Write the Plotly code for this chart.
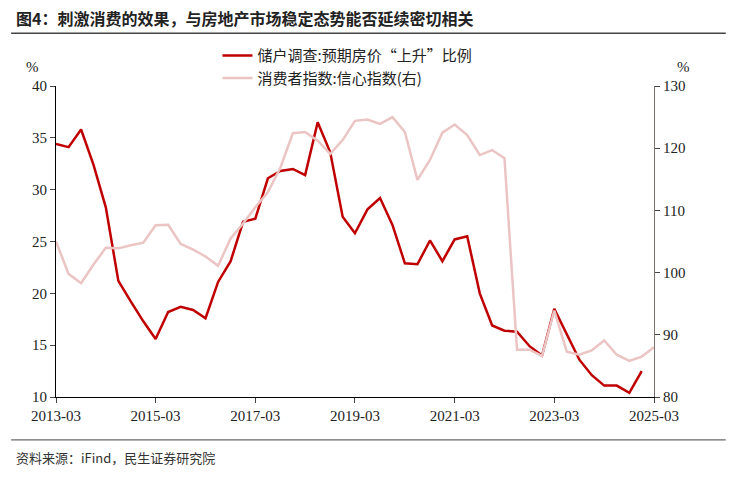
import plotly.graph_objects as go
import pandas as pd

dates = pd.date_range("2013-03-01", periods=49, freq="3MS")
housing = [34.4,34.1,35.8,32.4,28.3,21.2,19.2,17.3,15.6,18.2,18.7,18.4,17.6,21.1,23.1,26.9,
           27.2,31.1,31.8,32.0,31.4,36.5,33.6,27.4,25.8,28.1,29.2,26.6,22.9,22.8,25.1,23.1,
           25.2,25.5,20.0,16.9,16.4,16.3,14.9,14.0,18.5,16.0,13.6,12.1,11.1,11.1,10.4,12.5]
confidence = [105.0,99.8,98.3,101.3,104.0,103.9,104.4,104.8,107.6,107.7,104.6,103.7,102.6,101.1,105.5,107.9,
              110.5,112.9,116.9,122.4,122.6,121.2,119.1,121.3,124.4,124.6,123.9,125.0,122.6,114.9,118.1,122.5,
              123.8,122.1,118.9,119.7,118.4,87.6,87.6,86.6,93.9,87.3,86.8,87.5,89.1,86.8,85.8,86.5,88.0]
tickvals = pd.date_range("2013-03-01", "2025-03-01", freq="24MS")
ticktext = [d.strftime("%Y-%m") for d in tickvals]

font = "Liberation Serif, Noto Sans CJK SC"
fig = go.Figure()
fig.add_trace(go.Scatter(x=dates[:len(housing)], y=housing, name="储户调查:预期房价“上升”比例",
                         line=dict(color="#C00000", width=2.5), mode="lines"))
fig.add_trace(go.Scatter(x=dates, y=confidence, name="消费者指数:信心指数(右)", yaxis="y2",
                         line=dict(color="#EBC4C4", width=2.5), mode="lines"))
fig.update_layout(
    width=738, height=478, plot_bgcolor="white", paper_bgcolor="white",
    margin=dict(l=48, r=92, t=78, b=89, autoexpand=False),
    font=dict(family=font, size=15, color="#222"),
    xaxis=dict(range=[dates[0], dates[48]], tickvals=tickvals, ticktext=ticktext,
               showgrid=False, showline=True, linecolor="black", ticks="outside", ticklen=5),
    yaxis=dict(range=[10, 40], dtick=5, showgrid=False, showline=True, linecolor="black",
               ticks="outside", ticklen=5, zeroline=False),
    yaxis2=dict(range=[80, 130], dtick=10, overlaying="y", side="right", showgrid=False,
                showline=True, linecolor="#7f7070", ticks="outside", ticklen=5, zeroline=False),
    legend=dict(x=0.27, y=1.15, xanchor="left", yanchor="top", bgcolor="rgba(0,0,0,0)",
                font=dict(size=15, family="Noto Sans CJK SC"), tracegroupgap=0),
    showlegend=True,
)
fig.add_annotation(text="<b>图4：刺激消费的效果，与房地产市场稳定态势能否延续密切相关</b>", xref="paper", yref="paper",
                   x=-0.07, y=1.219, xanchor="left", yanchor="middle", showarrow=False,
                   font=dict(family="Noto Sans CJK SC", size=16, color="#222"))
fig.add_shape(type="line", xref="paper", yref="paper", x0=-0.075, x1=1.12, y0=1.17, y1=1.17,
              line=dict(color="#444", width=1.5))
fig.add_annotation(text="%", xref="paper", yref="paper", x=-0.04, y=1.03, xanchor="center",
                   yanchor="bottom", showarrow=False, font=dict(size=15))
fig.add_annotation(text="%", xref="paper", yref="paper", x=1.05, y=1.03, xanchor="center",
                   yanchor="bottom", showarrow=False, font=dict(size=15))
fig.add_annotation(text="资料来源：iFind，民生证券研究院", xref="paper", yref="paper", x=-0.07, y=-0.193,
                   xanchor="left", yanchor="middle", showarrow=False,
                   font=dict(family="Noto Sans CJK SC", size=13, color="#333"))
fig.add_shape(type="line", xref="paper", yref="paper", x0=-0.075, x1=1.12, y0=-0.138, y1=-0.138,
              line=dict(color="#444", width=1))
fig.write_html("out.html")
